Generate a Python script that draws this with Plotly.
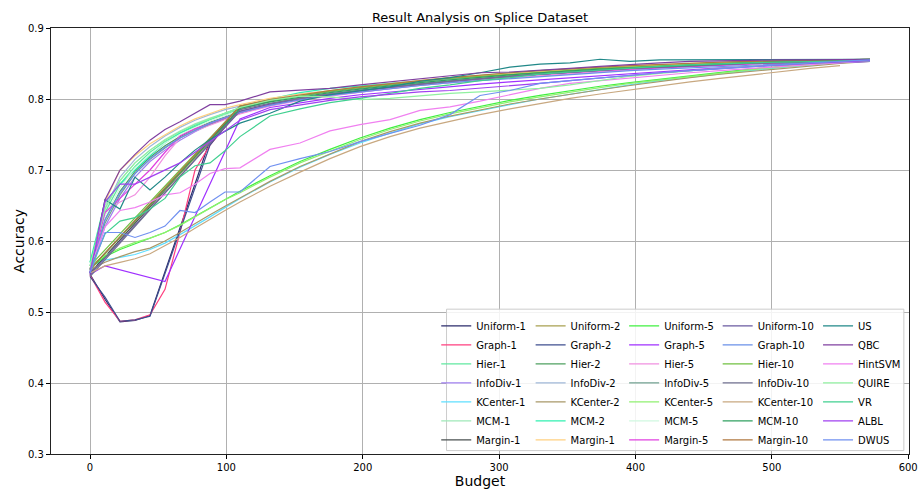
import plotly.graph_objects as go

# ---------------- data ----------------
BUDGET = [0, 11, 22, 33, 44, 55, 66, 77, 88, 99, 110, 132, 154, 176, 198, 220, 242, 264,
          286, 308, 330, 352, 374, 396, 418, 440, 462, 484, 506, 528, 550, 572]
BUDGET_STRAIGHT = [0, 110, 132, 154, 176, 198, 220, 242, 264, 286, 308, 330, 352, 374, 396,
                   418, 440, 462, 484, 506, 528, 550, 572]
BUDGET_DIP = [0, 11, 22, 33, 44, 88, 110, 132, 154, 176, 198, 220, 242, 264, 286, 308, 330,
              352, 374, 396, 418, 440, 462, 484, 506, 528, 550, 572]
BUDGET_DIP_LONG = [0, 11, 22, 33, 44, 55, 66, 77, 88, 110, 132, 154, 176, 198, 220, 242, 264,
                   286, 308, 330, 352, 374, 396, 418, 440, 462, 484, 506, 528, 550, 572]
BUDGET_SKIP = [0, 11, 55, 110, 132, 154, 176, 198, 220, 242, 264, 286, 308, 330, 352, 374,
               396, 418, 440, 462, 484, 506, 528, 550, 572]

UNIFORM_1 = [0.553, 0.518, 0.486, 0.488, 0.495, 0.742, 0.790, 0.797, 0.804, 0.810, 0.815,
             0.819, 0.823, 0.827, 0.830, 0.833, 0.836, 0.839, 0.842, 0.844, 0.846, 0.848,
             0.850, 0.851, 0.852, 0.853, 0.854, 0.855]
GRAPH_1 = [0.552, 0.514, 0.487, 0.489, 0.496, 0.532, 0.612, 0.700, 0.735, 0.786, 0.796, 0.803,
           0.808, 0.813, 0.818, 0.822, 0.826, 0.829, 0.832, 0.835, 0.838, 0.841, 0.843, 0.845,
           0.847, 0.849, 0.850, 0.851, 0.852, 0.853, 0.854]
HIER_1 = [0.570, 0.640, 0.680, 0.705, 0.725, 0.740, 0.752, 0.762, 0.771, 0.778, 0.786, 0.796,
          0.803, 0.809, 0.814, 0.819, 0.823, 0.827, 0.831, 0.834, 0.837, 0.840, 0.843, 0.845,
          0.847, 0.849, 0.851, 0.852, 0.853, 0.854, 0.855, 0.855]
INFODIV_1 = [0.555, 0.620, 0.660, 0.690, 0.712, 0.728, 0.742, 0.754, 0.764, 0.772, 0.780, 0.791,
             0.799, 0.805, 0.810, 0.815, 0.819, 0.823, 0.827, 0.830, 0.833, 0.836, 0.839, 0.842,
             0.844, 0.846, 0.848, 0.850, 0.851, 0.852, 0.853, 0.854]
KCENTER_1 = [0.565, 0.573, 0.577, 0.581, 0.588, 0.597, 0.609, 0.621, 0.634, 0.647, 0.660, 0.683,
             0.704, 0.722, 0.738, 0.752, 0.765, 0.775, 0.784, 0.792, 0.800, 0.807, 0.814, 0.820,
             0.826, 0.831, 0.836, 0.840, 0.844, 0.848, 0.851, 0.854]
MCM_1 = [0.565, 0.650, 0.685, 0.710, 0.728, 0.743, 0.755, 0.765, 0.773, 0.780, 0.787, 0.797,
         0.804, 0.810, 0.815, 0.820, 0.824, 0.828, 0.832, 0.835, 0.838, 0.841, 0.843, 0.845,
         0.847, 0.849, 0.851, 0.852, 0.853, 0.854, 0.855, 0.856]
MARGIN_1 = [0.555, 0.788, 0.797, 0.804, 0.810, 0.815, 0.820, 0.824, 0.828, 0.831, 0.834, 0.837,
            0.840, 0.843, 0.845, 0.847, 0.849, 0.851, 0.852, 0.853, 0.854, 0.855, 0.856]

UNIFORM_2 = [0.560, 0.785, 0.795, 0.802, 0.808, 0.813, 0.818, 0.822, 0.826, 0.830, 0.833,
             0.836, 0.839, 0.842, 0.844, 0.846, 0.848, 0.850, 0.851, 0.852, 0.853, 0.854, 0.855]
GRAPH_2 = [0.550, 0.521, 0.487, 0.489, 0.494, 0.735, 0.788, 0.795, 0.802, 0.808, 0.813, 0.818,
           0.822, 0.826, 0.829, 0.832, 0.835, 0.838, 0.841, 0.843, 0.845, 0.847, 0.849, 0.850,
           0.851, 0.852, 0.853, 0.854]
HIER_2 = [0.560, 0.630, 0.670, 0.698, 0.718, 0.734, 0.747, 0.758, 0.767, 0.775, 0.782, 0.793,
          0.801, 0.807, 0.813, 0.818, 0.822, 0.826, 0.830, 0.833, 0.836, 0.839, 0.842, 0.844,
          0.846, 0.848, 0.850, 0.851, 0.852, 0.853, 0.854, 0.855]
INFODIV_2 = [0.558, 0.645, 0.690, 0.715, 0.733, 0.748, 0.760, 0.770, 0.778, 0.785, 0.790, 0.800,
             0.807, 0.812, 0.817, 0.821, 0.825, 0.829, 0.832, 0.835, 0.838, 0.841, 0.843, 0.845,
             0.847, 0.849, 0.851, 0.852, 0.853, 0.854, 0.855, 0.855]
KCENTER_2 = [0.560, 0.570, 0.578, 0.585, 0.590, 0.600, 0.612, 0.625, 0.637, 0.649, 0.661, 0.684,
             0.705, 0.723, 0.740, 0.754, 0.766, 0.776, 0.785, 0.793, 0.800, 0.807, 0.813, 0.819,
             0.825, 0.830, 0.835, 0.839, 0.843, 0.847, 0.850, 0.853]
MCM_2 = [0.570, 0.655, 0.680, 0.700, 0.720, 0.738, 0.752, 0.763, 0.772, 0.780, 0.788, 0.800,
         0.809, 0.815, 0.818, 0.822, 0.826, 0.830, 0.834, 0.837, 0.840, 0.842, 0.844, 0.846,
         0.848, 0.850, 0.852, 0.853, 0.854, 0.855, 0.856, 0.856]
MARGIN_1B = [0.560, 0.655, 0.700, 0.720, 0.737, 0.750, 0.762, 0.772, 0.780, 0.787, 0.792, 0.801,
             0.807, 0.812, 0.817, 0.822, 0.826, 0.830, 0.833, 0.836, 0.839, 0.842, 0.844, 0.846,
             0.848, 0.850, 0.852, 0.853, 0.854, 0.855, 0.855, 0.856]

UNIFORM_5 = [0.562, 0.578, 0.588, 0.596, 0.603, 0.612, 0.623, 0.635, 0.647, 0.659, 0.670, 0.692,
             0.712, 0.729, 0.745, 0.759, 0.771, 0.781, 0.790, 0.798, 0.805, 0.812, 0.818, 0.823,
             0.828, 0.833, 0.838, 0.842, 0.846, 0.850, 0.853, 0.855]
GRAPH_5 = [0.553, 0.565, 0.543, 0.772, 0.788, 0.795, 0.801, 0.806, 0.810, 0.814, 0.818, 0.821,
           0.824, 0.827, 0.830, 0.833, 0.836, 0.839, 0.842, 0.844, 0.846, 0.848, 0.850, 0.851,
           0.853]
HIER_5 = [0.560, 0.640, 0.655, 0.665, 0.690, 0.720, 0.745, 0.755, 0.763, 0.771, 0.779, 0.790,
          0.798, 0.804, 0.810, 0.815, 0.819, 0.823, 0.827, 0.830, 0.833, 0.836, 0.839, 0.841,
          0.844, 0.846, 0.848, 0.850, 0.851, 0.852, 0.853, 0.854]
INFODIV_5 = [0.560, 0.625, 0.665, 0.695, 0.715, 0.731, 0.745, 0.756, 0.765, 0.773, 0.781, 0.792,
             0.800, 0.806, 0.812, 0.817, 0.821, 0.825, 0.829, 0.832, 0.835, 0.838, 0.841, 0.843,
             0.845, 0.847, 0.849, 0.851, 0.852, 0.853, 0.854, 0.855]
KCENTER_5 = [0.565, 0.580, 0.590, 0.598, 0.604, 0.612, 0.622, 0.634, 0.646, 0.658, 0.668, 0.690,
             0.710, 0.727, 0.743, 0.757, 0.769, 0.779, 0.788, 0.796, 0.803, 0.810, 0.816, 0.822,
             0.827, 0.832, 0.837, 0.841, 0.845, 0.849, 0.852, 0.855]
MCM_5 = [0.565, 0.635, 0.675, 0.703, 0.722, 0.738, 0.750, 0.760, 0.769, 0.777, 0.784, 0.795,
         0.803, 0.809, 0.814, 0.819, 0.823, 0.827, 0.831, 0.834, 0.837, 0.840, 0.842, 0.844,
         0.846, 0.848, 0.850, 0.852, 0.853, 0.854, 0.855, 0.855]
MARGIN_5 = [0.555, 0.640, 0.660, 0.680, 0.700, 0.725, 0.748, 0.758, 0.766, 0.774, 0.781, 0.793,
            0.801, 0.807, 0.812, 0.817, 0.821, 0.825, 0.829, 0.832, 0.835, 0.838, 0.840, 0.842,
            0.844, 0.846, 0.848, 0.850, 0.851, 0.852, 0.853, 0.854]

UNIFORM_10 = [0.553, 0.783, 0.793, 0.800, 0.806, 0.812, 0.817, 0.821, 0.825, 0.829, 0.832,
              0.835, 0.838, 0.841, 0.843, 0.845, 0.847, 0.849, 0.850, 0.852, 0.853, 0.854, 0.855]
GRAPH_10 = [0.555, 0.630, 0.668, 0.695, 0.716, 0.732, 0.745, 0.756, 0.766, 0.774, 0.781, 0.791,
            0.799, 0.805, 0.810, 0.815, 0.819, 0.823, 0.826, 0.829, 0.832, 0.835, 0.838, 0.840,
            0.842, 0.844, 0.846, 0.848, 0.850, 0.851, 0.852, 0.853]
HIER_10 = [0.565, 0.790, 0.798, 0.805, 0.811, 0.816, 0.821, 0.825, 0.829, 0.832, 0.835, 0.838,
           0.841, 0.843, 0.845, 0.847, 0.849, 0.851, 0.852, 0.853, 0.854, 0.855, 0.856]
INFODIV_10 = [0.550, 0.785, 0.794, 0.801, 0.807, 0.812, 0.817, 0.821, 0.825, 0.829, 0.832,
              0.835, 0.838, 0.841, 0.843, 0.845, 0.847, 0.849, 0.850, 0.851, 0.852, 0.853, 0.854]
KCENTER_10 = [0.555, 0.565, 0.570, 0.575, 0.582, 0.593, 0.605, 0.618, 0.631, 0.643, 0.655,
              0.677, 0.697, 0.716, 0.733, 0.747, 0.759, 0.769, 0.778, 0.786, 0.794, 0.801,
              0.807, 0.813, 0.819, 0.824, 0.829, 0.834, 0.839, 0.843, 0.847]
MCM_10 = [0.560, 0.787, 0.796, 0.803, 0.809, 0.814, 0.819, 0.823, 0.827, 0.831, 0.834, 0.837,
          0.840, 0.842, 0.844, 0.846, 0.848, 0.850, 0.852, 0.853, 0.854, 0.855, 0.855]
MARGIN_10 = [0.560, 0.790, 0.799, 0.806, 0.812, 0.817, 0.822, 0.826, 0.830, 0.834, 0.837,
             0.840, 0.843, 0.845, 0.847, 0.849, 0.851, 0.852, 0.853, 0.854, 0.855, 0.855, 0.856]

US = [0.555, 0.658, 0.645, 0.690, 0.672, 0.690, 0.710, 0.728, 0.743, 0.755, 0.766, 0.780, 0.797,
      0.806, 0.812, 0.817, 0.825, 0.830, 0.837, 0.845, 0.849, 0.851, 0.856, 0.853, 0.855, 0.855,
      0.856, 0.856, 0.856, 0.856, 0.856, 0.856]
QBC = [0.553, 0.658, 0.700, 0.722, 0.742, 0.757, 0.768, 0.780, 0.792, 0.792, 0.797, 0.810, 0.812,
       0.815, 0.820, 0.824, 0.828, 0.832, 0.837, 0.838, 0.840, 0.843, 0.846, 0.849, 0.851, 0.853,
       0.854, 0.855, 0.855, 0.855, 0.856, 0.856]
HINTSVM = [0.560, 0.620, 0.643, 0.647, 0.655, 0.665, 0.668, 0.680, 0.695, 0.702, 0.703, 0.729,
           0.738, 0.755, 0.764, 0.771, 0.784, 0.789, 0.797, 0.806, 0.815, 0.822, 0.826, 0.830,
           0.834, 0.837, 0.840, 0.843, 0.846, 0.849, 0.852, 0.854]
QUIRE = [0.565, 0.645, 0.685, 0.710, 0.728, 0.742, 0.754, 0.764, 0.772, 0.780, 0.788, 0.798,
         0.804, 0.803, 0.799, 0.801, 0.805, 0.808, 0.810, 0.812, 0.815, 0.820, 0.826, 0.832,
         0.836, 0.840, 0.843, 0.846, 0.848, 0.850, 0.852, 0.854]
VR = [0.560, 0.610, 0.628, 0.633, 0.645, 0.660, 0.690, 0.706, 0.710, 0.727, 0.747, 0.776, 0.786,
      0.795, 0.801, 0.808, 0.815, 0.820, 0.826, 0.830, 0.835, 0.838, 0.841, 0.844, 0.846, 0.848,
      0.850, 0.851, 0.852, 0.853, 0.854, 0.854]
ALBL = [0.555, 0.655, 0.680, 0.680, 0.690, 0.700, 0.710, 0.725, 0.740, 0.755, 0.770, 0.785, 0.792,
        0.798, 0.803, 0.807, 0.810, 0.812, 0.815, 0.818, 0.822, 0.826, 0.830, 0.834, 0.837, 0.840,
        0.843, 0.846, 0.848, 0.850, 0.852, 0.854]
DWUS = [0.555, 0.612, 0.612, 0.605, 0.612, 0.621, 0.643, 0.640, 0.655, 0.669, 0.669, 0.705, 0.716,
        0.726, 0.740, 0.752, 0.763, 0.778, 0.805, 0.812, 0.822, 0.826, 0.830, 0.834, 0.837, 0.840,
        0.843, 0.846, 0.848, 0.851, 0.853, 0.855]

X_TICKS = [0, 100, 200, 300, 400, 500, 600]
Y_TICKS = [0.3, 0.4, 0.5, 0.6, 0.7, 0.8, 0.9]

# (legend label, x, y, colour, legend column)
SERIES = [
    ("Uniform-1", BUDGET_DIP, UNIFORM_1, "#2b2b6b", 0),
    ("Graph-1", BUDGET_DIP_LONG, GRAPH_1, "#ff3f7f", 0),
    ("Hier-1", BUDGET, HIER_1, "#60e8a0", 0),
    ("InfoDiv-1", BUDGET, INFODIV_1, "#9f7fef", 0),
    ("KCenter-1", BUDGET, KCENTER_1, "#5fdfff", 0),
    ("MCM-1", BUDGET, MCM_1, "#9fe8b8", 0),
    ("Margin-1", BUDGET_STRAIGHT, MARGIN_1, "#4a5050", 0),
    ("Uniform-2", BUDGET_STRAIGHT, UNIFORM_2, "#a8a050", 1),
    ("Graph-2", BUDGET_DIP, GRAPH_2, "#3f4f8f", 1),
    ("Hier-2", BUDGET, HIER_2, "#4fa060", 1),
    ("InfoDiv-2", BUDGET, INFODIV_2, "#a0b8d8", 1),
    ("KCenter-2", BUDGET, KCENTER_2, "#a89868", 1),
    ("MCM-2", BUDGET, MCM_2, "#30f0b0", 1),
    ("Margin-1", BUDGET, MARGIN_1B, "#ffd080", 1),
    ("Uniform-5", BUDGET, UNIFORM_5, "#40f040", 2),
    ("Graph-5", BUDGET_SKIP, GRAPH_5, "#a030ff", 2),
    ("Hier-5", BUDGET, HIER_5, "#f090e0", 2),
    ("InfoDiv-5", BUDGET, INFODIV_5, "#70a090", 2),
    ("KCenter-5", BUDGET, KCENTER_5, "#90f070", 2),
    ("MCM-5", BUDGET, MCM_5, "#d0f8e0", 2),
    ("Margin-5", BUDGET, MARGIN_5, "#e040e0", 2),
    ("Uniform-10", BUDGET_STRAIGHT, UNIFORM_10, "#6a5aa0", 3),
    ("Graph-10", BUDGET, GRAPH_10, "#6a90e8", 3),
    ("Hier-10", BUDGET_STRAIGHT, HIER_10, "#70c040", 3),
    ("InfoDiv-10", BUDGET_STRAIGHT, INFODIV_10, "#707090", 3),
    ("KCenter-10", BUDGET, KCENTER_10, "#c8a880", 3),
    ("MCM-10", BUDGET_STRAIGHT, MCM_10, "#30a060", 3),
    ("Margin-10", BUDGET_STRAIGHT, MARGIN_10, "#b07840", 3),
    ("US", BUDGET, US, "#208888", 4),
    ("QBC", BUDGET, QBC, "#8040a0", 4),
    ("HintSVM", BUDGET, HINTSVM, "#f080f0", 4),
    ("QUIRE", BUDGET, QUIRE, "#90f0a0", 4),
    ("VR", BUDGET, VR, "#40d090", 4),
    ("ALBL", BUDGET, ALBL, "#a040f0", 4),
    ("DWUS", BUDGET, DWUS, "#7090f0", 4),
]

FONT = "DejaVu Sans"
LEGEND_IDS = ["legend", "legend2", "legend3", "legend4", "legend5"]
LEGEND_X = [0.449, 0.559, 0.668, 0.777, 0.894]   # paper x of each legend column

fig = go.Figure()
for name, xs, ys, color, col in SERIES:
    n = min(len(xs), len(ys))
    fig.add_trace(go.Scatter(
        x=xs[:n], y=ys[:n], mode="lines", name=name,
        line=dict(color=color, width=1.2),
        legend=LEGEND_IDS[col],
    ))

axis_common = dict(
    showline=True, linecolor="#222222", linewidth=1.3, mirror=True,
    ticks="outside", ticklen=4, tickcolor="black", tickwidth=1,
    showgrid=True, gridcolor="#b0b0b0", gridwidth=1,
    zeroline=False, automargin=False,
    tickfont=dict(family=FONT, size=10, color="black"),
)

legend_common = dict(
    orientation="v", y=0.335, yanchor="top", xanchor="left",
    bgcolor="rgba(0,0,0,0)", borderwidth=0,
    font=dict(family=FONT, size=10, color="black"),
    itemwidth=30, tracegroupgap=0,
)

layout_legends = {}
for lid, lx in zip(LEGEND_IDS, LEGEND_X):
    layout_legends[lid] = dict(x=lx, **legend_common)

fig.update_layout(
    width=919, height=489,
    margin=dict(l=51, r=10, t=28, b=35),
    paper_bgcolor="white", plot_bgcolor="white",
    font=dict(family=FONT, color="black"),
    title=dict(text="Result Analysis on Splice Dataset", x=0.5223, xanchor="center",
               y=0.965, yanchor="middle", font=dict(family=FONT, size=13)),
    xaxis=dict(range=[-28.6, 600.6], tickvals=X_TICKS,
               title=dict(text="Budget", font=dict(family=FONT, size=14), standoff=4),
               **axis_common),
    yaxis=dict(range=[0.3, 0.9], tickvals=Y_TICKS, tickformat=".1f",
               title=dict(text="Accuracy", font=dict(family=FONT, size=14), standoff=0),
               **axis_common),
    showlegend=True,
    shapes=[dict(type="rect", xref="paper", yref="paper", x0=0.461, x1=0.994,
                 y0=0.008, y1=0.34, layer="above",
                 fillcolor="rgba(255,255,255,0.85)",
                 line=dict(color="#cccccc", width=1))],
    **layout_legends,
)

fig.write_html("out.html", config={"displayModeBar": False},
               post_script="document.body.style.margin='0px';")
